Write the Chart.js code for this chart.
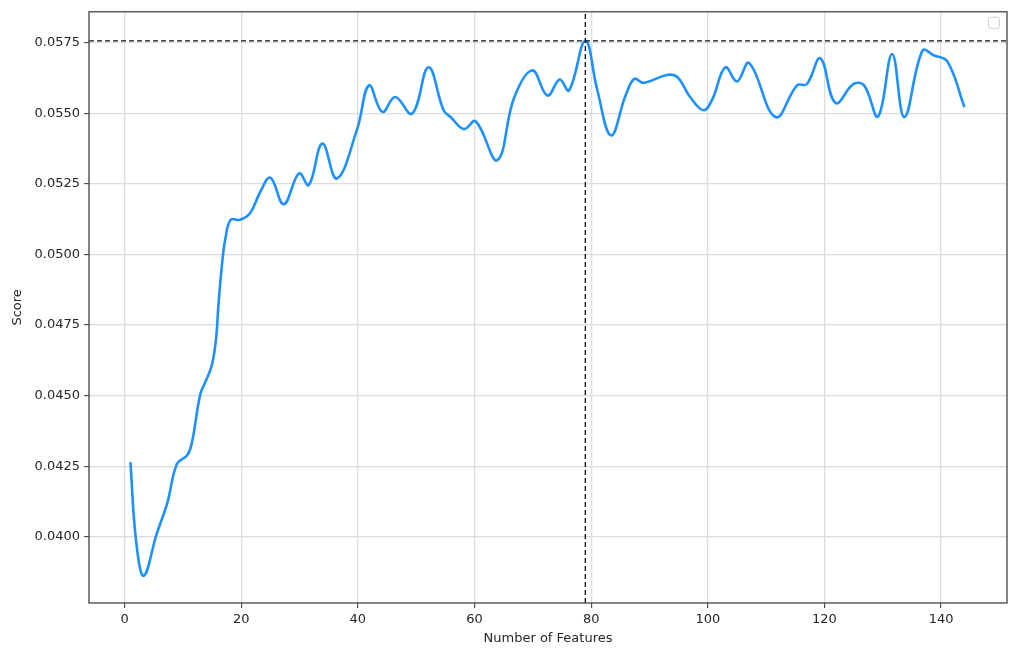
<!DOCTYPE html>
<html>
<head>
<meta charset="utf-8">
<script src="https://cdn.jsdelivr.net/npm/chart.js@4/dist/chart.umd.min.js"></script>
<style>
  html, body { margin: 0; padding: 0; background: #fff; }
  #wrap { width: 1016px; height: 658px; }
</style>
</head>
<body>
<div id="wrap"><canvas id="chart" width="1016" height="658"></canvas></div>
<script>
// values (feature count, score)
const featureCounts = [1, 2, 3.3, 5.5, 7.3, 9, 10.7, 11.5, 13, 14, 15, 15.7, 16.1, 16.7, 17.3, 18.2, 19.8,
  21.5, 23.3, 25, 27.3, 29.9, 31.6, 33.9, 36.4, 39.9, 41.9, 44.2, 46.4, 49.3, 52.1, 54.7, 55.9,
  58.2, 60.2, 63.9, 66.8, 69.9, 72.5, 74.6, 76.2, 79, 81, 83.4, 85.9, 87.4, 89, 93, 94.8, 97,
  99.3, 100.8, 103, 105, 107.1, 111.6, 115.3, 117, 119.3, 121.9, 125, 126.8, 129.2, 131.6,
  133.7, 136.8, 138.8, 141.1, 144];
const scores = [0.04264, 0.0398, 0.03862, 0.0401, 0.04118, 0.04259, 0.04288, 0.04329, 0.04506, 0.04555,
  0.04611, 0.04705, 0.04823, 0.04964, 0.05058, 0.05123, 0.05123, 0.05146, 0.05223, 0.05272,
  0.05178, 0.05287, 0.05246, 0.05393, 0.05269, 0.05446, 0.05599, 0.05505, 0.05558, 0.05499,
  0.05663, 0.05511, 0.05487, 0.05444, 0.05472, 0.05334, 0.05556, 0.05652, 0.05563, 0.0562,
  0.05581, 0.05757, 0.05587, 0.05422, 0.05563, 0.05622, 0.05608, 0.05636, 0.05628, 0.05557,
  0.05511, 0.05551, 0.05663, 0.05613, 0.05678, 0.05487, 0.05599, 0.05604, 0.05695, 0.05537,
  0.05604, 0.05599, 0.05489, 0.0571, 0.05487, 0.05722, 0.05705, 0.05683, 0.05522];

const bestFeatures = 79;
const bestScore = 0.05757;

const xTicks = [0, 20, 40, 60, 80, 100, 120, 140];
const yTicks = [0.0400, 0.0425, 0.0450, 0.0475, 0.0500, 0.0525, 0.0550, 0.0575];

const X_MIN = -6.1, X_MAX = 151.3;
const Y_MIN = 0.037652, Y_MAX = 0.058597;

const FONT = { family: 'DejaVu Sans', size: 13 };
const TEXT = '#262626';

// spines on all four sides + the empty legend box
const framePlugin = {
    id: 'frame',
    afterDraw(chart) {
        const { ctx, chartArea: a } = chart;
        ctx.save();
        ctx.strokeStyle = '#333';
        ctx.lineWidth = 1.2;
        ctx.strokeRect(a.left, a.top, a.right - a.left, a.bottom - a.top);
        ctx.fillStyle = '#fff';
        ctx.strokeStyle = '#cfcfcf';
        ctx.lineWidth = 1;
        ctx.beginPath();
        ctx.roundRect(a.right - 18.5, a.top + 5.5, 11, 11, 2);
        ctx.fill();
        ctx.stroke();
        ctx.restore();
    }
};

new Chart(document.getElementById('chart'), {
    type: 'line',
    data: {
        datasets: [
            {
                data: [{ x: bestFeatures, y: Y_MIN }, { x: bestFeatures, y: Y_MAX }],
                borderColor: '#111', borderWidth: 1.3, borderDash: [5, 3],
                pointRadius: 0, fill: false
            },
            {
                data: [{ x: X_MIN, y: bestScore }, { x: X_MAX, y: bestScore }],
                borderColor: '#111', borderWidth: 1.3, borderDash: [5, 3],
                pointRadius: 0, fill: false
            },
            {
                data: featureCounts.map((x, i) => ({ x, y: scores[i] })),
                borderColor: '#1E90FF', borderWidth: 2.6,
                pointRadius: 0, fill: false,
                tension: 0.4
            }
        ]
    },
    options: {
        responsive: false,
        animation: false,
        layout: { padding: { top: 9, right: 9, left: 0, bottom: 0 } },
        plugins: { legend: { display: false }, tooltip: { enabled: false } },
        scales: {
            x: {
                type: 'linear', min: X_MIN, max: X_MAX,
                afterBuildTicks: s => { s.ticks = xTicks.map(v => ({ value: v })); },
                afterFit: s => { s.height = 55; },
                grid: { color: '#dcdcdc', lineWidth: 1.3, tickLength: 5, tickColor: '#333', tickWidth: 1 },
                border: { display: false },
                ticks: { font: FONT, color: TEXT, padding: 4, maxRotation: 0, callback: v => String(v) },
                title: { display: true, text: 'Number of Features', font: FONT, color: TEXT, padding: { top: 0, bottom: 12 } }
            },
            y: {
                type: 'linear', min: Y_MIN, max: Y_MAX,
                afterBuildTicks: s => { s.ticks = yTicks.map(v => ({ value: v })); },
                afterFit: s => { s.width = 89; },
                grid: { color: '#dcdcdc', lineWidth: 1.3, tickLength: 5, tickColor: '#333', tickWidth: 1 },
                border: { display: false },
                ticks: { font: FONT, color: TEXT, padding: 4, callback: v => v.toFixed(4) },
                title: { display: true, text: 'Score', font: FONT, color: TEXT, padding: { top: 10, bottom: 0 } }
            }
        }
    },
    plugins: [framePlugin]
});
</script>
</body>
</html>
